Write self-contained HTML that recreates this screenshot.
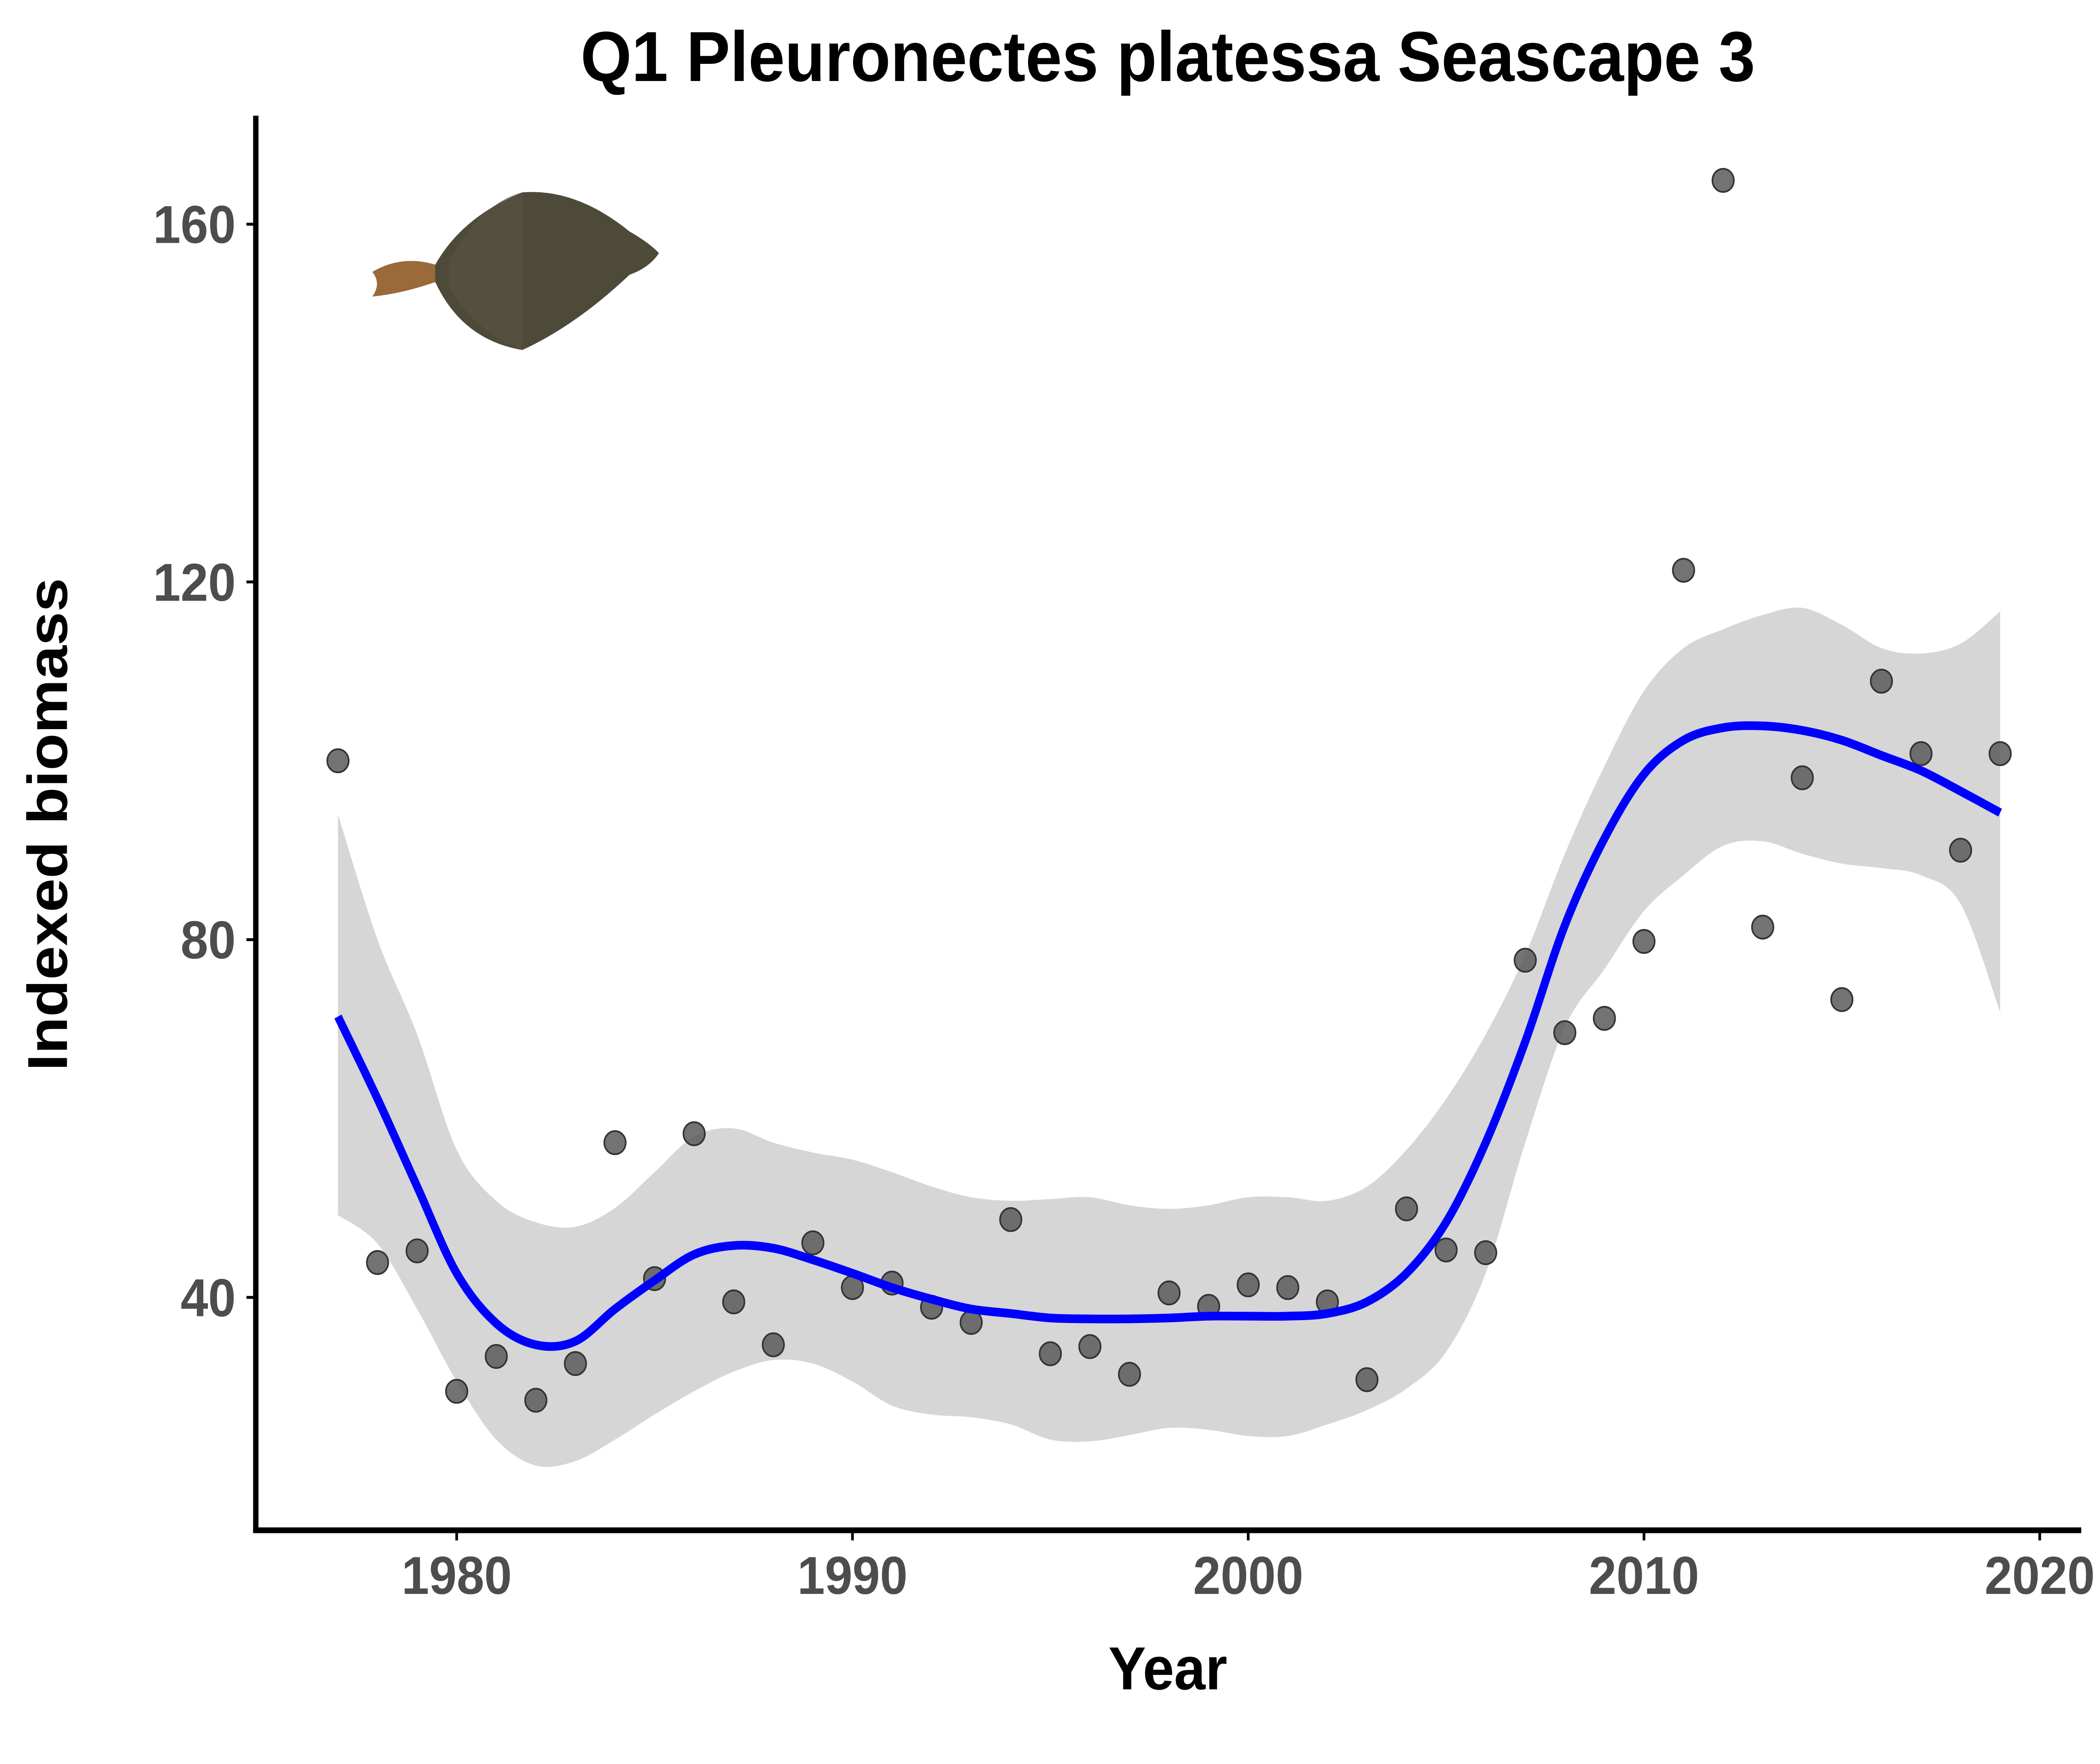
<!DOCTYPE html>
<html><head><meta charset="utf-8"><style>
html,body{margin:0;padding:0;background:#fff;overflow:hidden;width:100%;height:100%}
svg{display:block;position:absolute;left:0;top:0;width:100vw;height:100vh}
text{font-family:"Liberation Sans",Arial,sans-serif;font-weight:bold}
</style></head><body>
<svg id="chart" viewBox="0 0 1568 1219.6" preserveAspectRatio="none" xmlns="http://www.w3.org/2000/svg">
<text x="872" y="56" font-size="49" text-anchor="middle" fill="#000">Q1 Pleuronectes platessa Seascape 3</text>
<g id="fish">
<path d="M278,188 Q300,176 325,183 Q345,150 390,133 Q430,130 470,160 Q485,168 492,175 Q485,185 470,190 Q430,225 390,242 Q345,235 325,195 Q300,203 278,205 Q285,196 278,188 Z" fill="#4d4a3a"/>
<path d="M278,188 Q300,176 325,183 L325,195 Q300,203 278,205 Q285,196 278,188 Z" fill="#9a6a3a"/>
<path d="M335,180 Q360,140 390,133 L390,242 Q355,230 335,198 Z" fill="#5a5442" opacity="0.6"/>
</g>
<g id="band"></g>
<g id="points"></g>
<g id="line"></g>
<line x1="191" y1="80" x2="191" y2="1059" stroke="#000" stroke-width="4"/>
<line x1="189" y1="1058" x2="1554" y2="1058" stroke="#000" stroke-width="4"/>
<g id="yticks"></g>
<g id="xticks"></g>
<text x="872" y="1168" font-size="42" text-anchor="middle" fill="#000">Year</text>
<text transform="translate(50,570) rotate(-90)" font-size="42" text-anchor="middle" fill="#000">Indexed biomass</text>
</svg>
<script>
const years=[1977,1978,1979,1980,1981,1982,1983,1984,1985,1986,1987,1988,1989,1990,1991,1992,1993,1994,1995,1996,1997,1998,1999,2000,2001,2002,2003,2004,2005,2006,2007,2008,2009,2010,2011,2012,2013,2014,2015,2016,2017,2018,2019];
const biomass=[100,43.9,45.2,29.5,33.4,28.5,32.6,57.3,42.1,58.3,39.5,34.7,46.1,41.1,41.6,38.9,37.2,48.7,33.7,34.5,31.4,40.5,39.0,41.4,41.1,39.5,30.8,49.9,45.3,45.0,77.7,69.6,71.2,79.8,121.3,164.9,81.4,98.1,73.3,108.9,100.8,90.0,100.8];
const fitted=[71.4,62.2,52.4,42.7,37.1,34.7,35.1,38.7,41.9,44.8,45.8,45.5,44.2,42.7,41.1,39.8,38.7,38.2,37.7,37.6,37.6,37.7,37.9,37.9,37.9,38.2,39.5,42.7,48.4,57.3,68.6,81.6,91.3,98.5,102.3,103.7,103.9,103.4,102.3,100.6,98.9,96.6,94.2];
const upper=[94,80,69.4,56.5,50.8,48.4,47.9,50,54,58,58.9,57.3,56.2,55.4,54,52.4,51.2,50.8,51,51.2,50.3,49.9,50.3,51.2,51.2,50.8,52.4,56.5,62.2,69.4,78.3,89.6,99.4,107.8,112.6,114.7,116.3,117.1,115.2,112.6,112,113.1,116.7];
const lower=[49.2,46,38.7,30.6,24.1,21.2,21.7,24.1,26.9,29.5,31.7,33,32.6,30.6,27.9,26.9,26.6,25.8,24.1,23.9,24.6,25.4,25.2,24.5,24.5,25.8,27.4,29.8,33.9,42.7,57.3,70.2,76.7,83.2,87.2,90.5,91,89.6,88.5,88,87.2,84,71.9];
const xTicks=[1980,1990,2000,2010,2020];
const yTicks=[40,80,120,160];
const NS="http://www.w3.org/2000/svg";
const xs=y=>341+(y-1980)*(1523-341)/40;
const ys=v=>897-(v-40)*(897-155)/120;
function mk(t,a){const e=document.createElementNS(NS,t);for(const k in a)e.setAttribute(k,a[k]);return e;}
function smooth(pts){let d="M"+pts[0][0]+","+pts[0][1];for(let i=0;i<pts.length-1;i++){const p0=pts[Math.max(0,i-1)],p1=pts[i],p2=pts[i+1],p3=pts[Math.min(pts.length-1,i+2)];d+=" C"+(p1[0]+(p2[0]-p0[0])/6)+","+(p1[1]+(p2[1]-p0[1])/6)+" "+(p2[0]-(p3[0]-p1[0])/6)+","+(p2[1]-(p3[1]-p1[1])/6)+" "+p2[0]+","+p2[1];}return d;}
const up=years.map((y,i)=>[xs(y),ys(upper[i])]);
const lo=years.map((y,i)=>[xs(y),ys(lower[i])]).reverse();
const bandPath=smooth(up)+" L"+lo[0][0]+","+lo[0][1]+smooth(lo).replace(/^M[^ C]+/,"")+" Z";
const band=mk("path",{d:bandPath,fill:"#d6d6d6"});


document.getElementById("band").appendChild(band);
years.forEach((y,i)=>{const c=mk("circle",{cx:xs(y),cy:ys(biomass[i]),r:8,fill:"#5a5a5a","fill-opacity":"0.85",stroke:"#333","stroke-width":"1.2"});


document.getElementById("points").appendChild(c);});
const ln=mk("path",{d:smooth(years.map((y,i)=>[xs(y),ys(fitted[i])])),fill:"none",stroke:"#0000ff","stroke-width":"6"});


document.getElementById("line").appendChild(ln);
yTicks.forEach(v=>{const t=mk("text",{x:176,y:ys(v)+13,"font-size":"37","text-anchor":"end",fill:"#4d4d4d"});t.textContent=v;


document.getElementById("yticks").appendChild(t);
const tk=mk("line",{x1:184,x2:191,y1:ys(v),y2:ys(v),stroke:"#000","stroke-width":"2"});


document.getElementById("yticks").appendChild(tk);});
xTicks.forEach(v=>{const t=mk("text",{x:xs(v),y:1102,"font-size":"37","text-anchor":"middle",fill:"#4d4d4d"});t.textContent=v;


document.getElementById("xticks").appendChild(t);
const tk=mk("line",{x1:xs(v),x2:xs(v),y1:1058,y2:1065,stroke:"#000","stroke-width":"2"});


document.getElementById("xticks").appendChild(tk);});
</script>
</body></html>
